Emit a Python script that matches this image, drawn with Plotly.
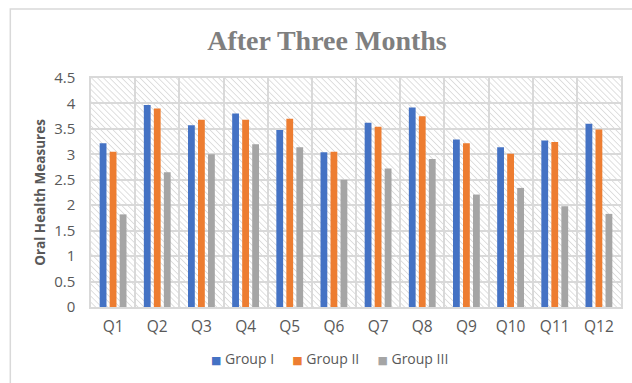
import base64
import plotly.graph_objects as go

# Mean oral health scores per question, three months after intervention
questions = ["Q1", "Q2", "Q3", "Q4", "Q5", "Q6", "Q7", "Q8", "Q9", "Q10", "Q11", "Q12"]
group_i = [3.22, 3.97, 3.57, 3.80, 3.48, 3.04, 3.62, 3.92, 3.29, 3.14, 3.27, 3.60]
group_ii = [3.05, 3.90, 3.68, 3.68, 3.70, 3.05, 3.54, 3.75, 3.22, 3.01, 3.24, 3.49]
group_iii = [1.82, 2.65, 3.00, 3.20, 3.14, 2.50, 2.72, 2.91, 2.21, 2.34, 1.98, 1.83]
series_names = ["Group I", "Group II", "Group III"]
y_ticks = [0, 0.5, 1, 1.5, 2, 2.5, 3, 3.5, 4, 4.5]

W, H = 632, 383
M = dict(l=91, r=9, t=78, b=76)
pw, ph = W - M["l"] - M["r"], H - M["t"] - M["b"]

colors = ["#4472C4", "#ED7D31", "#A5A5A5"]
grid = "#d9d9d9"
text_gray = "#595959"

# Light diagonal hatching for the plot background
svg = f'''<svg xmlns="http://www.w3.org/2000/svg" width="{pw}" height="{ph}">
<defs><pattern id="h" width="4.3" height="4.3" patternUnits="userSpaceOnUse" patternTransform="rotate(-45)">
<line x1="0" y1="0" x2="0" y2="4.3" stroke="#cfcfcf" stroke-width="1.3"/></pattern></defs>
<rect width="100%" height="100%" fill="#ffffff"/>
<rect width="100%" height="100%" fill="url(#h)"/></svg>'''
hatch_src = "data:image/svg+xml;base64," + base64.b64encode(svg.encode()).decode()

fig = go.Figure()
for name, vals, c in zip(series_names, [group_i, group_ii, group_iii], colors):
    fig.add_trace(go.Bar(x=questions, y=vals, name=name, marker_color=c,
                         marker_line_width=0, showlegend=False))

font_main = "Open Sans, Liberation Sans, sans-serif"

# Compact legend row: coloured square + series name
gap = "&nbsp;" * 5
legend_text = gap.join(
    f"<span style='color:{c};font-family:DejaVu Sans;font-size:11px'>■</span>&nbsp;{n}"
    for n, c in zip(series_names, colors)
)

# Outer chart frame (left and top edges)
fx0 = (10 - M["l"]) / pw
fy_top = (H - M["b"] - 9) / ph
fy_bot = (H - M["b"] - H - 5) / ph

fig.update_layout(
    width=W, height=H,
    margin=M,
    paper_bgcolor="white",
    plot_bgcolor="rgba(0,0,0,0)",
    barmode="group",
    bargap=0.32,
    bargroupgap=0.32,
    title=dict(text="<b>After Three Months</b>", x=327 / W, xanchor="center",
               y=1 - 40 / H, yanchor="middle",
               font=dict(family="Liberation Serif, serif", size=28, color="#7f7f7f")),
    font=dict(family=font_main, color=text_gray),
    xaxis=dict(showgrid=True, gridcolor=grid, gridwidth=1.5,
               tickson="boundaries", ticks="", showline=True, linecolor=grid,
               linewidth=1.5, mirror=True, ticklabelstandoff=5,
               tickfont=dict(size=15.5, color=text_gray)),
    yaxis=dict(range=[0, 4.5], tickvals=y_ticks, showgrid=True, gridcolor=grid,
               gridwidth=1.5, zeroline=False, showline=True, linecolor=grid,
               linewidth=1.5, mirror=True, ticks="", ticklabelstandoff=11,
               tickfont=dict(size=15, color=text_gray),
               title=dict(text="<b>Oral Health Measures</b>", standoff=5,
                          font=dict(size=13.5, color=text_gray))),
    annotations=[dict(text=legend_text, xref="paper", yref="paper",
                      x=(330 - M["l"]) / pw, y=(H - M["b"] - 358) / ph,
                      xanchor="center", yanchor="middle", showarrow=False,
                      font=dict(size=14, color=text_gray))],
    images=[dict(source=hatch_src, xref="paper", yref="paper", x=0, y=1,
                 sizex=1, sizey=1, xanchor="left", yanchor="top",
                 sizing="stretch", layer="below")],
    shapes=[dict(type="path", xref="paper", yref="paper",
                 path=f"M {fx0},{fy_bot} L {fx0},{fy_top} L 1.2,{fy_top}",
                 line=dict(color=grid, width=1.5))],
)

fig.write_html("out.html")
